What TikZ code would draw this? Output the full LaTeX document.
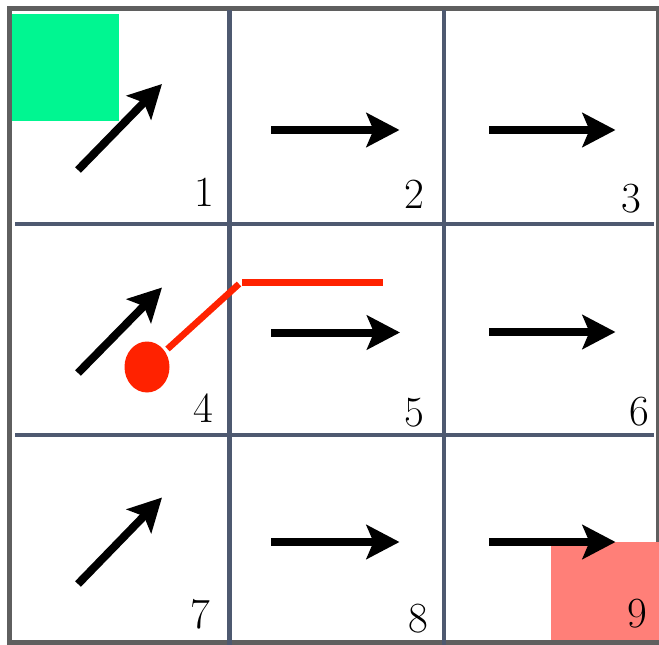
\documentclass[tikz,border=0pt]{standalone}
\usetikzlibrary{arrows.meta}
\definecolor{gridc}{RGB}{78,89,112}
\definecolor{borderc}{RGB}{95,95,95}
\definecolor{startc}{RGB}{0,246,145}
\definecolor{goalc}{RGB}{255,127,120}
\definecolor{agentc}{RGB}{255,34,0}
\begin{document}
\begin{tikzpicture}[x=1pt,y=-1pt,
  gridline/.style={gridc,line width=4.5pt},
  policy/.style={line width=8pt,-{Stealth[length=33pt,width=34pt,inset=7pt]}},
  num/.style={anchor=base,inner sep=0pt,font=\fontsize{43}{43}\selectfont},
  agentline/.style={agentc,line width=6.5pt}]
\useasboundingbox (0,0) rectangle (659,645);
\fill[white] (0,0) rectangle (659,645);
\fill[startc] (12,14) rectangle (119,121);
\draw[borderc,line width=5pt] (9.5,8.5) rectangle (658,642.5);
\draw[gridline] (229.5,10) -- (229.5,645);
\draw[gridline] (444,10) -- (444,645);
\draw[gridline] (15,224) -- (654,224);
\draw[gridline] (15,435) -- (654,435);
\fill[goalc] (551,541.5) rectangle (659,640);
% arrow end points
\coordinate (a1s) at (78,170);   \coordinate (a1e) at (162,84);
\coordinate (a2s) at (271,130);  \coordinate (a2e) at (399.5,130);
\coordinate (a3s) at (489,130);  \coordinate (a3e) at (615.5,130);
\coordinate (a4s) at (78,373);   \coordinate (a4e) at (162,287.5);
\coordinate (a5s) at (271,332.5);\coordinate (a5e) at (400,332.5);
\coordinate (a6s) at (489,332);  \coordinate (a6e) at (615.5,332);
\coordinate (a7s) at (78,584);   \coordinate (a7e) at (162,497.5);
\coordinate (a8s) at (271,542);  \coordinate (a8e) at (399.5,542);
\coordinate (a9s) at (489,542);  \coordinate (a9e) at (615.5,542);
\foreach \i in {1,...,9} {\draw[policy] (a\i s) -- (a\i e);}
% agent
\fill[agentc] (147,367) ellipse [x radius=22.5, y radius=25.5];
\coordinate (p0) at (167.5,349);
\coordinate (p1) at (239,284);
\coordinate (p2) at (242,282);
\coordinate (p3) at (383,282);
\draw[agentline] (p0) -- (p1);
\draw[agentline,line width=7pt] (p2) -- (p3);
% numbers
\node[num] (n1) at (204,206) {1};
\node[num] (n2) at (414.5,208) {2};
\node[num] (n3) at (631.5,212) {3};
\node[num] (n4) at (203.5,422) {4};
\node[num] (n5) at (414,426) {5};
\node[num] (n6) at (639.5,425) {6};
\node[num] (n7) at (200.5,628) {7};
\node[num] (n8) at (418,632) {8};
\node[num] (n9) at (637.5,627) {9};
\end{tikzpicture}
\end{document}
